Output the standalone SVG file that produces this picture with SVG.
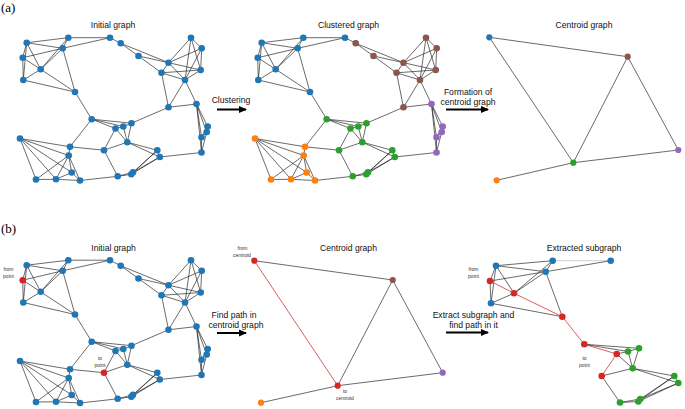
<svg xmlns="http://www.w3.org/2000/svg" xmlns:xlink="http://www.w3.org/1999/xlink" width="685" height="409" viewBox="0 0 685 409">
<style>
text{font-family:"Liberation Sans",Arial,sans-serif;fill:#111}
.t{font-size:8.6px;text-anchor:middle}
.s{font-size:5px;text-anchor:middle;fill:#333}
.p{font-family:"Liberation Serif","DejaVu Serif",serif;font-size:13px;fill:#000}
.k line{stroke:#1a1a1a;stroke-width:0.65}
line.r{stroke:#d62728;stroke-width:0.75}
line.gr{stroke:#c8c8c8;stroke-width:0.9}
.B{fill:#1f77b4}.O{fill:#ff7f0e}.G{fill:#2ca02c}.R{fill:#d62728}.P{fill:#9467bd}.N{fill:#8c564b}
.arr{stroke:#000;stroke-width:2;marker-end:url(#ah)}
</style>
<defs>
<marker id="ah" markerUnits="userSpaceOnUse" markerWidth="9" markerHeight="8" refX="7" refY="4" orient="auto">
<path d="M0,0.5 L8,4 L0,7.5 Z" fill="#000"/>
</marker>
<g id="E" class="k">
<line x1="26.7" y1="42.7" x2="68.3" y2="37.7"/>
<line x1="26.7" y1="42.7" x2="62.7" y2="48.3"/>
<line x1="26.7" y1="42.7" x2="22.7" y2="57.7"/>
<line x1="26.7" y1="42.7" x2="40.7" y2="69.3"/>
<line x1="26.7" y1="42.7" x2="23.3" y2="80"/>
<line x1="68.3" y1="37.7" x2="110" y2="37.7"/>
<line x1="68.3" y1="37.7" x2="62.7" y2="48.3"/>
<line x1="68.3" y1="37.7" x2="40.7" y2="69.3"/>
<line x1="110" y1="37.7" x2="62.7" y2="48.3"/>
<line x1="62.7" y1="48.3" x2="40.7" y2="69.3"/>
<line x1="62.7" y1="48.3" x2="75" y2="92"/>
<line x1="62.7" y1="48.3" x2="22.7" y2="57.7"/>
<line x1="22.7" y1="57.7" x2="40.7" y2="69.3"/>
<line x1="22.7" y1="57.7" x2="23.3" y2="80"/>
<line x1="40.7" y1="69.3" x2="23.3" y2="80"/>
<line x1="40.7" y1="69.3" x2="75" y2="92"/>
<line x1="23.3" y1="80" x2="75" y2="92"/>
<line x1="75" y1="92" x2="91.7" y2="119.2"/>
<line x1="110" y1="37.7" x2="120.7" y2="43.3"/>
<line x1="120.7" y1="43.3" x2="138.5" y2="56"/>
<line x1="120.7" y1="43.3" x2="168.5" y2="62.7"/>
<line x1="138.5" y1="56" x2="168.5" y2="62.7"/>
<line x1="138.5" y1="56" x2="161.5" y2="72.8"/>
<line x1="168.5" y1="62.7" x2="191" y2="37.7"/>
<line x1="168.5" y1="62.7" x2="201.7" y2="48.3"/>
<line x1="168.5" y1="62.7" x2="161.5" y2="72.8"/>
<line x1="168.5" y1="62.7" x2="185" y2="80"/>
<line x1="168.5" y1="62.7" x2="200.7" y2="70"/>
<line x1="191" y1="37.7" x2="201.7" y2="48.3"/>
<line x1="191" y1="37.7" x2="185" y2="80"/>
<line x1="191" y1="37.7" x2="200.7" y2="70"/>
<line x1="201.7" y1="48.3" x2="185" y2="80"/>
<line x1="201.7" y1="48.3" x2="200.7" y2="70"/>
<line x1="161.5" y1="72.8" x2="185" y2="80"/>
<line x1="161.5" y1="72.8" x2="200.7" y2="70"/>
<line x1="161.5" y1="72.8" x2="168.5" y2="107.3"/>
<line x1="185" y1="80" x2="200.7" y2="70"/>
<line x1="185" y1="80" x2="168.5" y2="107.3"/>
<line x1="185" y1="80" x2="196.5" y2="104"/>
<line x1="168.5" y1="107.3" x2="196.5" y2="104"/>
<line x1="168.5" y1="107.3" x2="131.5" y2="123.2"/>
<line x1="196.5" y1="104" x2="207.7" y2="126.5"/>
<line x1="196.5" y1="104" x2="206.7" y2="132"/>
<line x1="196.5" y1="104" x2="201.5" y2="137.3"/>
<line x1="196.5" y1="104" x2="201.5" y2="152.5"/>
<line x1="207.7" y1="126.5" x2="206.7" y2="132"/>
<line x1="207.7" y1="126.5" x2="201.5" y2="137.3"/>
<line x1="206.7" y1="132" x2="201.5" y2="137.3"/>
<line x1="206.7" y1="132" x2="201.5" y2="152.5"/>
<line x1="201.5" y1="137.3" x2="201.5" y2="152.5"/>
<line x1="201.5" y1="152.5" x2="159.8" y2="157"/>
<line x1="91.7" y1="119.2" x2="115.5" y2="128.5"/>
<line x1="91.7" y1="119.2" x2="123.3" y2="126.5"/>
<line x1="91.7" y1="119.2" x2="131.5" y2="123.2"/>
<line x1="91.7" y1="119.2" x2="70" y2="146.8"/>
<line x1="115.5" y1="128.5" x2="123.3" y2="126.5"/>
<line x1="115.5" y1="128.5" x2="127.3" y2="142.2"/>
<line x1="115.5" y1="128.5" x2="104" y2="150.2"/>
<line x1="123.3" y1="126.5" x2="131.5" y2="123.2"/>
<line x1="123.3" y1="126.5" x2="127.3" y2="142.2"/>
<line x1="131.5" y1="123.2" x2="127.3" y2="142.2"/>
<line x1="127.3" y1="142.2" x2="104" y2="150.2"/>
<line x1="127.3" y1="142.2" x2="157.3" y2="150.3"/>
<line x1="127.3" y1="142.2" x2="159.8" y2="157"/>
<line x1="104" y1="150.2" x2="70" y2="146.8"/>
<line x1="104" y1="150.2" x2="117.7" y2="176.3"/>
<line x1="117.7" y1="176.3" x2="131.3" y2="174.3"/>
<line x1="117.7" y1="176.3" x2="133" y2="172.3"/>
<line x1="131.3" y1="174.3" x2="157.3" y2="150.3"/>
<line x1="131.3" y1="174.3" x2="159.8" y2="157"/>
<line x1="133" y1="172.3" x2="157.3" y2="150.3"/>
<line x1="133" y1="172.3" x2="159.8" y2="157"/>
<line x1="157.3" y1="150.3" x2="159.8" y2="157"/>
<line x1="80" y1="180.5" x2="117.7" y2="176.3"/>
<line x1="70" y1="146.8" x2="20" y2="138.5"/>
<line x1="20" y1="138.5" x2="68.7" y2="155.5"/>
<line x1="20" y1="138.5" x2="36" y2="179.5"/>
<line x1="20" y1="138.5" x2="56" y2="179.3"/>
<line x1="20" y1="138.5" x2="71.7" y2="172.5"/>
<line x1="70" y1="146.8" x2="68.7" y2="155.5"/>
<line x1="68.7" y1="155.5" x2="36" y2="179.5"/>
<line x1="68.7" y1="155.5" x2="56" y2="179.3"/>
<line x1="68.7" y1="155.5" x2="71.7" y2="172.5"/>
<line x1="68.7" y1="155.5" x2="80" y2="180.5"/>
<line x1="71.7" y1="172.5" x2="56" y2="179.3"/>
<line x1="71.7" y1="172.5" x2="80" y2="180.5"/>
<line x1="36" y1="179.5" x2="56" y2="179.3"/>
<line x1="56" y1="179.3" x2="80" y2="180.5"/>
</g>
</defs>

<rect width="685" height="409" fill="#fff"/>

<!-- labels -->
<text class="p" x="1" y="11.5">(a)</text>
<text class="p" x="1" y="233">(b)</text>
<text class="t" x="113" y="28">Initial graph</text>
<text class="t" x="348.5" y="28">Clustered graph</text>
<text class="t" x="584" y="28">Centroid graph</text>
<text class="t" x="231" y="103">Clustering</text>
<text class="t" x="468" y="94.5">Formation of</text>
<text class="t" x="468" y="104.5">centroid graph</text>
<text class="t" x="113.5" y="251">Initial graph</text>
<text class="t" x="348.5" y="251">Centroid graph</text>
<text class="t" x="584" y="251">Extracted subgraph</text>
<text class="t" x="234" y="318">Find path in</text>
<text class="t" x="236" y="328">centroid graph</text>
<text class="t" x="473.5" y="317.5">Extract subgraph and</text>
<text class="t" x="473.5" y="327.5">find path in it</text>
<text class="s" x="8.5" y="271">from</text>
<text class="s" x="8.5" y="278">point</text>
<text class="s" x="100" y="359.5">to</text>
<text class="s" x="100" y="366.5">point</text>
<text class="s" x="242.5" y="250">from</text>
<text class="s" x="242" y="257">centroid</text>
<text class="s" x="345" y="393">to</text>
<text class="s" x="345" y="400">centroid</text>
<text class="s" x="473.5" y="271">from</text>
<text class="s" x="473.5" y="278">point</text>
<text class="s" x="584.5" y="359.5">to</text>
<text class="s" x="584.5" y="367">point</text>

<!-- arrows -->
<g id="arrows">
<line class="arr" x1="217" y1="109.5" x2="246" y2="109.5"/>
<line class="arr" x1="446" y1="109.5" x2="488" y2="109.5"/>
<line class="arr" x1="217" y1="333" x2="246" y2="333"/>
<line class="arr" x1="446" y1="332.5" x2="488" y2="332.5"/>
</g>

<!-- (a) initial graph -->
<g id="a-initial-connectors"><use xlink:href="#E" href="#E"/></g>
<g id="a-initial-nodes" class="B">
<g id="a1-n1"><circle cx="26.7" cy="42.7" r="3.3"/></g>
<g id="a1-n2"><circle cx="68.3" cy="37.7" r="3.3"/></g>
<g id="a1-n3"><circle cx="110" cy="37.7" r="3.3"/></g>
<g id="a1-n4"><circle cx="120.7" cy="43.3" r="3.3"/></g>
<g id="a1-n5"><circle cx="62.7" cy="48.3" r="3.3"/></g>
<g id="a1-n6"><circle cx="22.7" cy="57.7" r="3.3"/></g>
<g id="a1-n7"><circle cx="40.7" cy="69.3" r="3.3"/></g>
<g id="a1-n8"><circle cx="23.3" cy="80" r="3.3"/></g>
<g id="a1-n9"><circle cx="75" cy="92" r="3.3"/></g>
<g id="a1-n10"><circle cx="138.5" cy="56" r="3.3"/></g>
<g id="a1-n11"><circle cx="168.5" cy="62.7" r="3.3"/></g>
<g id="a1-n12"><circle cx="191" cy="37.7" r="3.3"/></g>
<g id="a1-n13"><circle cx="201.7" cy="48.3" r="3.3"/></g>
<g id="a1-n14"><circle cx="161.5" cy="72.8" r="3.3"/></g>
<g id="a1-n15"><circle cx="185" cy="80" r="3.3"/></g>
<g id="a1-n16"><circle cx="200.7" cy="70" r="3.3"/></g>
<g id="a1-n17"><circle cx="168.5" cy="107.3" r="3.3"/></g>
<g id="a1-n18"><circle cx="196.5" cy="104" r="3.3"/></g>
<g id="a1-n19"><circle cx="207.7" cy="126.5" r="3.3"/></g>
<g id="a1-n20"><circle cx="206.7" cy="132" r="3.3"/></g>
<g id="a1-n21"><circle cx="201.5" cy="137.3" r="3.3"/></g>
<g id="a1-n22"><circle cx="201.5" cy="152.5" r="3.3"/></g>
<g id="a1-n23"><circle cx="91.7" cy="119.2" r="3.3"/></g>
<g id="a1-n24"><circle cx="115.5" cy="128.5" r="3.3"/></g>
<g id="a1-n25"><circle cx="123.3" cy="126.5" r="3.3"/></g>
<g id="a1-n26"><circle cx="131.5" cy="123.2" r="3.3"/></g>
<g id="a1-n27"><circle cx="127.3" cy="142.2" r="3.3"/></g>
<g id="a1-n28"><circle cx="104" cy="150.2" r="3.3"/></g>
<g id="a1-n29"><circle cx="70" cy="146.8" r="3.3"/></g>
<g id="a1-n30"><circle cx="20" cy="138.5" r="3.3"/></g>
<g id="a1-n31"><circle cx="68.7" cy="155.5" r="3.3"/></g>
<g id="a1-n32"><circle cx="71.7" cy="172.5" r="3.3"/></g>
<g id="a1-n33"><circle cx="36" cy="179.5" r="3.3"/></g>
<g id="a1-n34"><circle cx="56" cy="179.3" r="3.3"/></g>
<g id="a1-n35"><circle cx="80" cy="180.5" r="3.3"/></g>
<g id="a1-n36"><circle cx="117.7" cy="176.3" r="3.3"/></g>
<g id="a1-n37"><circle cx="131.3" cy="174.3" r="3.3"/></g>
<g id="a1-n38"><circle cx="133" cy="172.3" r="3.3"/></g>
<g id="a1-n39"><circle cx="157.3" cy="150.3" r="3.3"/></g>
<g id="a1-n40"><circle cx="159.8" cy="157" r="3.3"/></g>
</g>

<!-- (a) clustered graph -->
<g transform="translate(235,0)">
<g id="a-clustered-connectors"><use xlink:href="#E" href="#E"/></g>
<g id="a-clustered-nodes">
<g id="a2-n1" class="B"><circle cx="26.7" cy="42.7" r="3.3"/></g>
<g id="a2-n2" class="B"><circle cx="68.3" cy="37.7" r="3.3"/></g>
<g id="a2-n3" class="B"><circle cx="110" cy="37.7" r="3.3"/></g>
<g id="a2-n4" class="N"><circle cx="120.7" cy="43.3" r="3.3"/></g>
<g id="a2-n5" class="B"><circle cx="62.7" cy="48.3" r="3.3"/></g>
<g id="a2-n6" class="B"><circle cx="22.7" cy="57.7" r="3.3"/></g>
<g id="a2-n7" class="B"><circle cx="40.7" cy="69.3" r="3.3"/></g>
<g id="a2-n8" class="B"><circle cx="23.3" cy="80" r="3.3"/></g>
<g id="a2-n9" class="B"><circle cx="75" cy="92" r="3.3"/></g>
<g id="a2-n10" class="N"><circle cx="138.5" cy="56" r="3.3"/></g>
<g id="a2-n11" class="N"><circle cx="168.5" cy="62.7" r="3.3"/></g>
<g id="a2-n12" class="N"><circle cx="191" cy="37.7" r="3.3"/></g>
<g id="a2-n13" class="N"><circle cx="201.7" cy="48.3" r="3.3"/></g>
<g id="a2-n14" class="N"><circle cx="161.5" cy="72.8" r="3.3"/></g>
<g id="a2-n15" class="N"><circle cx="185" cy="80" r="3.3"/></g>
<g id="a2-n16" class="N"><circle cx="200.7" cy="70" r="3.3"/></g>
<g id="a2-n17" class="N"><circle cx="168.5" cy="107.3" r="3.3"/></g>
<g id="a2-n18" class="P"><circle cx="196.5" cy="104" r="3.3"/></g>
<g id="a2-n19" class="P"><circle cx="207.7" cy="126.5" r="3.3"/></g>
<g id="a2-n20" class="P"><circle cx="206.7" cy="132" r="3.3"/></g>
<g id="a2-n21" class="P"><circle cx="201.5" cy="137.3" r="3.3"/></g>
<g id="a2-n22" class="P"><circle cx="201.5" cy="152.5" r="3.3"/></g>
<g id="a2-n23" class="G"><circle cx="91.7" cy="119.2" r="3.3"/></g>
<g id="a2-n24" class="G"><circle cx="115.5" cy="128.5" r="3.3"/></g>
<g id="a2-n25" class="G"><circle cx="123.3" cy="126.5" r="3.3"/></g>
<g id="a2-n26" class="G"><circle cx="131.5" cy="123.2" r="3.3"/></g>
<g id="a2-n27" class="G"><circle cx="127.3" cy="142.2" r="3.3"/></g>
<g id="a2-n28" class="G"><circle cx="104" cy="150.2" r="3.3"/></g>
<g id="a2-n29" class="O"><circle cx="70" cy="146.8" r="3.3"/></g>
<g id="a2-n30" class="O"><circle cx="20" cy="138.5" r="3.3"/></g>
<g id="a2-n31" class="O"><circle cx="68.7" cy="155.5" r="3.3"/></g>
<g id="a2-n32" class="O"><circle cx="71.7" cy="172.5" r="3.3"/></g>
<g id="a2-n33" class="O"><circle cx="36" cy="179.5" r="3.3"/></g>
<g id="a2-n34" class="O"><circle cx="56" cy="179.3" r="3.3"/></g>
<g id="a2-n35" class="O"><circle cx="80" cy="180.5" r="3.3"/></g>
<g id="a2-n36" class="G"><circle cx="117.7" cy="176.3" r="3.3"/></g>
<g id="a2-n37" class="G"><circle cx="131.3" cy="174.3" r="3.3"/></g>
<g id="a2-n38" class="G"><circle cx="133" cy="172.3" r="3.3"/></g>
<g id="a2-n39" class="G"><circle cx="157.3" cy="150.3" r="3.3"/></g>
<g id="a2-n40" class="G"><circle cx="159.8" cy="157" r="3.3"/></g>
</g>
</g>

<!-- (a) centroid graph -->
<g id="a-centroid-connectors" class="k">
<line x1="489.3" y1="37.3" x2="627.7" y2="56.7"/>
<line x1="489.3" y1="37.3" x2="573.3" y2="162.7"/>
<line x1="627.7" y1="56.7" x2="573.3" y2="162.7"/>
<line x1="627.7" y1="56.7" x2="678.3" y2="150"/>
<line x1="573.3" y1="162.7" x2="678.3" y2="150"/>
<line x1="573.3" y1="162.7" x2="496.7" y2="180.3"/>
</g>
<g id="a3-blue" class="B"><circle cx="489.3" cy="37.3" r="3.1"/></g>
<g id="a3-brown" class="N"><circle cx="627.7" cy="56.7" r="3.1"/></g>
<g id="a3-green" class="G"><circle cx="573.3" cy="162.7" r="3.1"/></g>
<g id="a3-purple" class="P"><circle cx="678.3" cy="150" r="3.1"/></g>
<g id="a3-orange" class="O"><circle cx="496.7" cy="180.3" r="3.1"/></g>

<!-- (b) initial graph -->
<g transform="translate(0,222.5)">
<g id="b-initial-connectors"><use xlink:href="#E" href="#E"/></g>
<g id="b-initial-nodes" class="B">
<g id="b1-n1"><circle cx="26.7" cy="42.7" r="3.3"/></g>
<g id="b1-n2"><circle cx="68.3" cy="37.7" r="3.3"/></g>
<g id="b1-n3"><circle cx="110" cy="37.7" r="3.3"/></g>
<g id="b1-n4"><circle cx="120.7" cy="43.3" r="3.3"/></g>
<g id="b1-n5"><circle cx="62.7" cy="48.3" r="3.3"/></g>
<g id="b1-n6" class="R"><circle cx="22.7" cy="57.7" r="3.3"/></g>
<g id="b1-n7"><circle cx="40.7" cy="69.3" r="3.3"/></g>
<g id="b1-n8"><circle cx="23.3" cy="80" r="3.3"/></g>
<g id="b1-n9"><circle cx="75" cy="92" r="3.3"/></g>
<g id="b1-n10"><circle cx="138.5" cy="56" r="3.3"/></g>
<g id="b1-n11"><circle cx="168.5" cy="62.7" r="3.3"/></g>
<g id="b1-n12"><circle cx="191" cy="37.7" r="3.3"/></g>
<g id="b1-n13"><circle cx="201.7" cy="48.3" r="3.3"/></g>
<g id="b1-n14"><circle cx="161.5" cy="72.8" r="3.3"/></g>
<g id="b1-n15"><circle cx="185" cy="80" r="3.3"/></g>
<g id="b1-n16"><circle cx="200.7" cy="70" r="3.3"/></g>
<g id="b1-n17"><circle cx="168.5" cy="107.3" r="3.3"/></g>
<g id="b1-n18"><circle cx="196.5" cy="104" r="3.3"/></g>
<g id="b1-n19"><circle cx="207.7" cy="126.5" r="3.3"/></g>
<g id="b1-n20"><circle cx="206.7" cy="132" r="3.3"/></g>
<g id="b1-n21"><circle cx="201.5" cy="137.3" r="3.3"/></g>
<g id="b1-n22"><circle cx="201.5" cy="152.5" r="3.3"/></g>
<g id="b1-n23"><circle cx="91.7" cy="119.2" r="3.3"/></g>
<g id="b1-n24"><circle cx="115.5" cy="128.5" r="3.3"/></g>
<g id="b1-n25"><circle cx="123.3" cy="126.5" r="3.3"/></g>
<g id="b1-n26"><circle cx="131.5" cy="123.2" r="3.3"/></g>
<g id="b1-n27"><circle cx="127.3" cy="142.2" r="3.3"/></g>
<g id="b1-n28" class="R"><circle cx="104" cy="150.2" r="3.3"/></g>
<g id="b1-n29"><circle cx="70" cy="146.8" r="3.3"/></g>
<g id="b1-n30"><circle cx="20" cy="138.5" r="3.3"/></g>
<g id="b1-n31"><circle cx="68.7" cy="155.5" r="3.3"/></g>
<g id="b1-n32"><circle cx="71.7" cy="172.5" r="3.3"/></g>
<g id="b1-n33"><circle cx="36" cy="179.5" r="3.3"/></g>
<g id="b1-n34"><circle cx="56" cy="179.3" r="3.3"/></g>
<g id="b1-n35"><circle cx="80" cy="180.5" r="3.3"/></g>
<g id="b1-n36"><circle cx="117.7" cy="176.3" r="3.3"/></g>
<g id="b1-n37"><circle cx="131.3" cy="174.3" r="3.3"/></g>
<g id="b1-n38"><circle cx="133" cy="172.3" r="3.3"/></g>
<g id="b1-n39"><circle cx="157.3" cy="150.3" r="3.3"/></g>
<g id="b1-n40"><circle cx="159.8" cy="157" r="3.3"/></g>
</g>
</g>

<!-- (b) centroid graph -->
<g id="b-centroid-connectors" class="k">
<line x1="254.3" y1="260.7" x2="392.7" y2="280"/>
<line class="r" x1="254.3" y1="260.7" x2="337.7" y2="385.7"/>
<line x1="392.7" y1="280" x2="337.7" y2="385.7"/>
<line x1="392.7" y1="280" x2="442.7" y2="372.7"/>
<line x1="337.7" y1="385.7" x2="442.7" y2="372.7"/>
<line x1="337.7" y1="385.7" x2="261" y2="402.7"/>
</g>
<g id="b2-from" class="R"><circle cx="254.3" cy="260.7" r="3.1"/></g>
<g id="b2-brown" class="N"><circle cx="392.7" cy="280" r="3.1"/></g>
<g id="b2-to" class="R"><circle cx="337.7" cy="385.7" r="3.1"/></g>
<g id="b2-purple" class="P"><circle cx="442.7" cy="372.7" r="3.1"/></g>
<g id="b2-orange" class="O"><circle cx="261" cy="402.7" r="3.1"/></g>

<!-- (b) extracted subgraph -->
<g id="b-extracted-connectors" class="k">
<line x1="496" y1="265.7" x2="552.7" y2="260.7"/>
<line x1="496" y1="265.7" x2="545.7" y2="271.7"/>
<line x1="496" y1="265.7" x2="490" y2="281"/>
<line x1="496" y1="265.7" x2="514" y2="293.3"/>
<line x1="496" y1="265.7" x2="491" y2="303.3"/>
<line class="gr" x1="552.7" y1="260.7" x2="610.7" y2="260.7"/>
<line x1="552.7" y1="260.7" x2="545.7" y2="271.7"/>
<line x1="552.7" y1="260.7" x2="514" y2="293.3"/>
<line x1="610.7" y1="260.7" x2="545.7" y2="271.7"/>
<line x1="545.7" y1="271.7" x2="514" y2="293.3"/>
<line x1="545.7" y1="271.7" x2="562.3" y2="316.7"/>
<line x1="545.7" y1="271.7" x2="490" y2="281"/>
<line x1="490" y1="281" x2="491" y2="303.3"/>
<line x1="514" y1="293.3" x2="491" y2="303.3"/>
<line x1="491" y1="303.3" x2="562.3" y2="316.7"/>
<line x1="584.3" y1="344.3" x2="628" y2="351.5"/>
<line x1="584.3" y1="344.3" x2="639" y2="348.3"/>
<line x1="616.7" y1="354" x2="628" y2="351.5"/>
<line x1="616.7" y1="354" x2="632.7" y2="368.3"/>
<line x1="628" y1="351.5" x2="639" y2="348.3"/>
<line x1="628" y1="351.5" x2="632.7" y2="368.3"/>
<line x1="639" y1="348.3" x2="632.7" y2="368.3"/>
<line x1="632.7" y1="368.3" x2="601.7" y2="376"/>
<line x1="632.7" y1="368.3" x2="674.3" y2="376"/>
<line x1="632.7" y1="368.3" x2="678.3" y2="383"/>
<line x1="601.7" y1="376" x2="620" y2="402.5"/>
<line x1="620" y1="402.5" x2="638.3" y2="401.5"/>
<line x1="620" y1="402.5" x2="640.3" y2="399"/>
<line x1="638.3" y1="401.5" x2="674.3" y2="376"/>
<line x1="638.3" y1="401.5" x2="678.3" y2="383"/>
<line x1="640.3" y1="399" x2="674.3" y2="376"/>
<line x1="640.3" y1="399" x2="678.3" y2="383"/>
<line x1="674.3" y1="376" x2="678.3" y2="383"/>
<line class="r" x1="490" y1="281" x2="514" y2="293.3"/>
<line class="r" x1="514" y1="293.3" x2="562.3" y2="316.7"/>
<line class="r" x1="562.3" y1="316.7" x2="584.3" y2="344.3"/>
<line class="r" x1="584.3" y1="344.3" x2="616.7" y2="354"/>
<line class="r" x1="616.7" y1="354" x2="601.7" y2="376"/>
</g>
<g id="b3-nodes">
<g id="b3-n1" class="B"><circle cx="496" cy="265.7" r="3.3"/></g>
<g id="b3-n2" class="B"><circle cx="552.7" cy="260.7" r="3.3"/></g>
<g id="b3-n3" class="B"><circle cx="610.7" cy="260.7" r="3.3"/></g>
<g id="b3-n5" class="B"><circle cx="545.7" cy="271.7" r="3.3"/></g>
<g id="b3-n6" class="R"><circle cx="490" cy="281" r="3.3"/></g>
<g id="b3-n7" class="R"><circle cx="514" cy="293.3" r="3.3"/></g>
<g id="b3-n8" class="B"><circle cx="491" cy="303.3" r="3.3"/></g>
<g id="b3-n9" class="R"><circle cx="562.3" cy="316.7" r="3.3"/></g>
<g id="b3-n23" class="R"><circle cx="584.3" cy="344.3" r="3.3"/></g>
<g id="b3-n24" class="R"><circle cx="616.7" cy="354" r="3.3"/></g>
<g id="b3-n25" class="G"><circle cx="628" cy="351.5" r="3.3"/></g>
<g id="b3-n26" class="G"><circle cx="639" cy="348.3" r="3.3"/></g>
<g id="b3-n27" class="G"><circle cx="632.7" cy="368.3" r="3.3"/></g>
<g id="b3-n28" class="R"><circle cx="601.7" cy="376" r="3.3"/></g>
<g id="b3-n36" class="G"><circle cx="620" cy="402.5" r="3.3"/></g>
<g id="b3-n37" class="G"><circle cx="638.3" cy="401.5" r="3.3"/></g>
<g id="b3-n38" class="G"><circle cx="640.3" cy="399" r="3.3"/></g>
<g id="b3-n39" class="G"><circle cx="674.3" cy="376" r="3.3"/></g>
<g id="b3-n40" class="G"><circle cx="678.3" cy="383" r="3.3"/></g>
</g>
</svg>
